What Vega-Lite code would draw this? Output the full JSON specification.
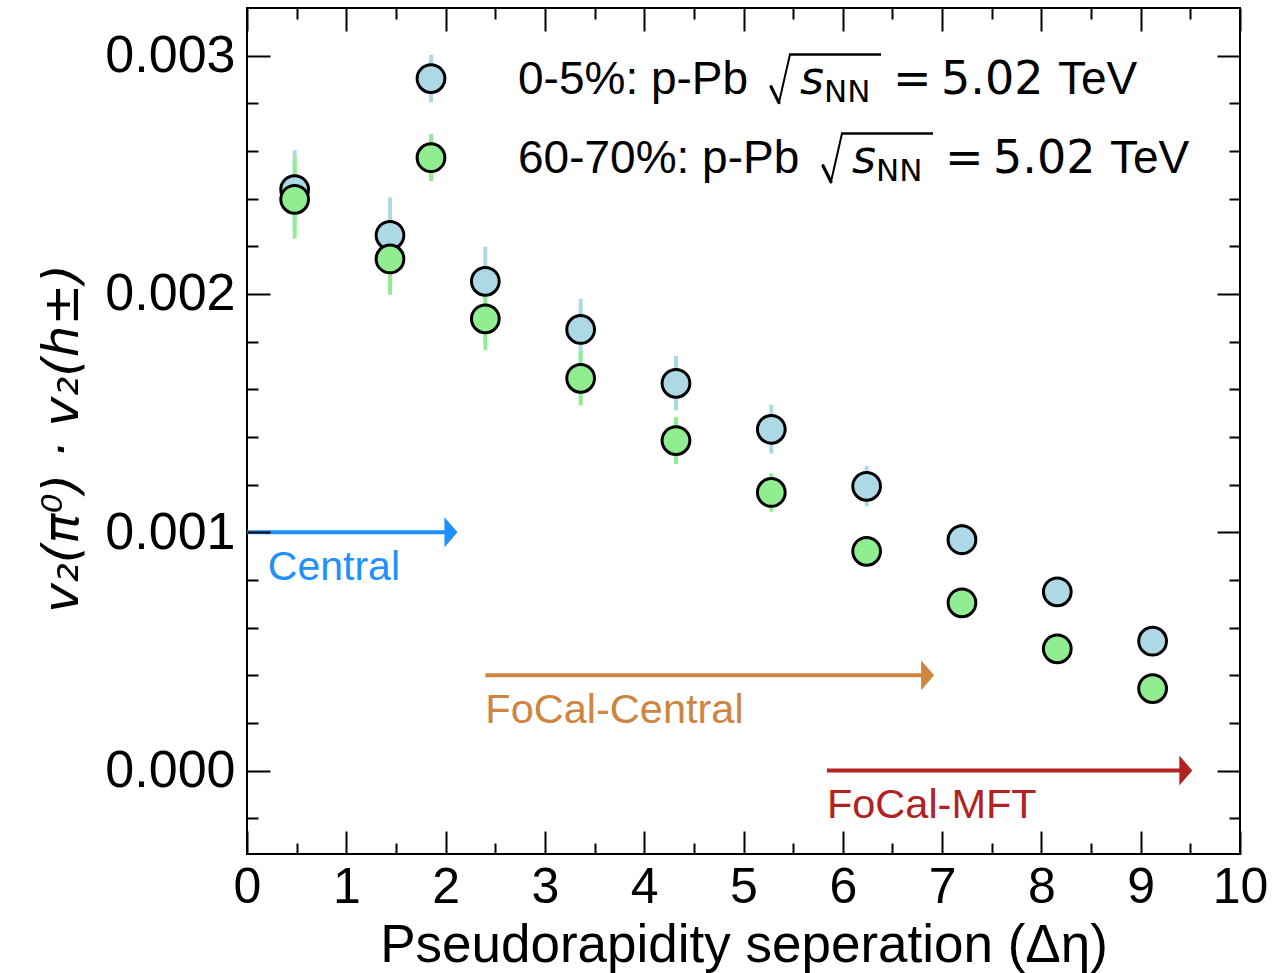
{
"$schema": "https://vega.github.io/schema/vega-lite/v6.json",
"width": 993, "height": 846,
"autosize": {"type": "none"},
"padding": {"left": 247, "top": 8, "right": 32, "bottom": 119},
"background": "white",
"config": {
  "view": {"stroke": "black", "strokeWidth": 2},
  "font": "Liberation Sans",
  "axis": {"grid": false, "domain": false, "labelFont": "Liberation Sans", "titleFont": "Liberation Sans", "labelColor": "black", "titleColor": "black", "tickColor": "black", "tickWidth": 2, "titleFontWeight": "normal", "labelOverlap": false}
},
"data": {"values": [
{"series":"0-5%","deta":0.48,"v":0.002438,"lo":0.002270,"hi":0.002603},
{"series":"0-5%","deta":1.44,"v":0.002246,"lo":0.002087,"hi":0.002405},
{"series":"0-5%","deta":2.40,"v":0.002053,"lo":0.001909,"hi":0.002198},
{"series":"0-5%","deta":3.36,"v":0.001851,"lo":0.001721,"hi":0.001981},
{"series":"0-5%","deta":4.32,"v":0.001625,"lo":0.001512,"hi":0.001740},
{"series":"0-5%","deta":5.28,"v":0.001432,"lo":0.001330,"hi":0.001535},
{"series":"0-5%","deta":6.24,"v":0.001193,"lo":0.001109,"hi":0.001277},
{"series":"0-5%","deta":7.20,"v":0.000969,"lo":0.000901,"hi":0.001037},
{"series":"0-5%","deta":8.16,"v":0.000750,"lo":0.000698,"hi":0.000802},
{"series":"0-5%","deta":9.12,"v":0.000543,"lo":0.000505,"hi":0.000581},
{"series":"60-70%","deta":0.48,"v":0.002397,"lo":0.002232,"hi":0.002568},
{"series":"60-70%","deta":1.44,"v":0.002147,"lo":0.001997,"hi":0.002297},
{"series":"60-70%","deta":2.40,"v":0.001896,"lo":0.001764,"hi":0.002028},
{"series":"60-70%","deta":3.36,"v":0.001646,"lo":0.001532,"hi":0.001761},
{"series":"60-70%","deta":4.32,"v":0.001385,"lo":0.001287,"hi":0.001483},
{"series":"60-70%","deta":5.28,"v":0.001167,"lo":0.001086,"hi":0.001248},
{"series":"60-70%","deta":6.24,"v":0.000920,"lo":0.000856,"hi":0.000984},
{"series":"60-70%","deta":7.20,"v":0.000704,"lo":0.000655,"hi":0.000753},
{"series":"60-70%","deta":8.16,"v":0.000511,"lo":0.000475,"hi":0.000547},
{"series":"60-70%","deta":9.12,"v":0.000344,"lo":0.000320,"hi":0.000368}
]},
"resolve": {"scale": {"x": "shared", "y": "shared"}, "axis": {"x": "independent", "y": "independent"}},
"layer": [
{"transform": [{"filter": "datum.series == '0-5%'"}],
 "mark": {"type": "rule", "color": "#ADD8E6", "strokeWidth": 4},
 "encoding": {
  "x": {"field": "deta", "type": "quantitative", "scale": {"domain": [0, 10], "nice": false, "zero": false},
        "axis": {"orient": "bottom", "values": [0,1,2,3,4,5,6,7,8,9,10], "ticks": false, "tickSize": 0, "labelFontSize": 50, "labelPadding": 8, "labelFlush": false,
                 "title": "Pseudorapidity seperation (Δη)", "titleFontSize": 53, "titleX": 496.5, "titleY": 107, "titleBaseline": "alphabetic", "titleAlign": "center", "titleAnchor": null}},
  "y": {"field": "lo", "type": "quantitative", "scale": {"domain": [-0.00035, 0.0032], "nice": false, "zero": false},
        "axis": {"orient": "left", "values": [0, 0.001, 0.002, 0.003], "format": ".3f", "ticks": false, "tickSize": 0, "labelFontSize": 52, "labelPadding": 12,
                 "title": "v₂(π⁰) · v₂(h±)", "titleFont": "DejaVu Sans", "titleFontSize": 50, "titleFontStyle": "italic", "titleAngle": -90, "titleX": -185, "titleY": 430, "titleAlign": "center", "titleBaseline": "middle", "titleAnchor": null}},
  "y2": {"field": "hi"}
 }},
{"transform": [{"filter": "datum.series == '60-70%'"}],
 "mark": {"type": "rule", "color": "#90EE90", "strokeWidth": 4},
 "encoding": {
  "x": {"field": "deta", "type": "quantitative", "scale": {"domain": [0, 10], "nice": false, "zero": false},
        "axis": {"orient": "bottom", "values": [0,1,2,3,4,5,6,7,8,9,10], "labels": false, "tickSize": -23, "title": null, "zindex": 1}},
  "y": {"field": "lo", "type": "quantitative", "scale": {"domain": [-0.00035, 0.0032], "nice": false, "zero": false},
        "axis": {"orient": "left", "values": [0, 0.001, 0.002, 0.003], "labels": false, "tickSize": -23, "title": null, "zindex": 1}},
  "y2": {"field": "hi"}
 }},
{"transform": [{"filter": "datum.series == '0-5%'"}],
 "mark": {"type": "point", "shape": "circle", "filled": true, "fill": "#ADD8E6", "stroke": "black", "strokeWidth": 3, "size": 770, "opacity": 1},
 "encoding": {
  "x": {"field": "deta", "type": "quantitative", "scale": {"domain": [0, 10], "nice": false, "zero": false},
        "axis": {"orient": "bottom", "values": [0.5,1.5,2.5,3.5,4.5,5.5,6.5,7.5,8.5,9.5], "labels": false, "tickSize": -11, "title": null, "zindex": 1}},
  "y": {"field": "v", "type": "quantitative", "scale": {"domain": [-0.00035, 0.0032], "nice": false, "zero": false},
        "axis": {"orient": "left", "values": [-0.0002,0.0002,0.0004,0.0006,0.0008,0.0012,0.0014,0.0016,0.0018,0.0022,0.0024,0.0026,0.0028], "labels": false, "tickSize": -11, "title": null, "zindex": 1}}
 }},
{"transform": [{"filter": "datum.series == '60-70%'"}],
 "mark": {"type": "point", "shape": "circle", "filled": true, "fill": "#90EE90", "stroke": "black", "strokeWidth": 3, "size": 770, "opacity": 1},
 "encoding": {
  "x": {"field": "deta", "type": "quantitative", "scale": {"domain": [0, 10], "nice": false, "zero": false},
        "axis": {"orient": "top", "values": [0,1,2,3,4,5,6,7,8,9,10], "labels": false, "tickSize": -23, "title": null, "zindex": 1}},
  "y": {"field": "v", "type": "quantitative", "scale": {"domain": [-0.00035, 0.0032], "nice": false, "zero": false},
        "axis": {"orient": "right", "values": [0, 0.001, 0.002, 0.003], "labels": false, "tickSize": -23, "title": null, "zindex": 1}}
 }},
{"mark": {"type": "point", "opacity": 0},
 "encoding": {
  "x": {"field": "deta", "type": "quantitative", "scale": {"domain": [0, 10], "nice": false, "zero": false},
        "axis": {"orient": "top", "values": [0.5,1.5,2.5,3.5,4.5,5.5,6.5,7.5,8.5,9.5], "labels": false, "tickSize": -11, "title": null, "zindex": 1}},
  "y": {"field": "v", "type": "quantitative", "scale": {"domain": [-0.00035, 0.0032], "nice": false, "zero": false},
        "axis": {"orient": "right", "values": [-0.0002,0.0002,0.0004,0.0006,0.0008,0.0012,0.0014,0.0016,0.0018,0.0022,0.0024,0.0026,0.0028], "labels": false, "tickSize": -11, "title": null, "zindex": 1}}
 }},

{"data": {"values": [{}]}, "mark": {"type": "rule", "color": "#1E90FF", "strokeWidth": 4},
 "encoding": {"x": {"datum": 0, "type": "quantitative", "axis": null}, "x2": {"datum": 2.0}, "y": {"datum": 0.001, "type": "quantitative", "axis": null}}},
{"data": {"values": [{}]}, "mark": {"type": "point", "shape": "M-0.87,-1L0,0L-0.87,1Z", "size": 900, "filled": true, "color": "#1E90FF", "opacity": 1, "strokeWidth": 0},
 "encoding": {"x": {"datum": 2.12, "type": "quantitative", "axis": null}, "y": {"datum": 0.001, "type": "quantitative", "axis": null}}},
{"data": {"values": [{}]}, "mark": {"type": "text", "text": "Central", "fontSize": 41, "color": "#1E90FF", "align": "left", "baseline": "alphabetic", "font": "Liberation Sans"},
 "encoding": {"x": {"datum": 0.21, "type": "quantitative", "axis": null}, "y": {"datum": 0.0008, "type": "quantitative", "axis": null}}},

{"data": {"values": [{}]}, "mark": {"type": "rule", "color": "#CD853F", "strokeWidth": 4},
 "encoding": {"x": {"datum": 2.40, "type": "quantitative", "axis": null}, "x2": {"datum": 6.8}, "y": {"datum": 0.0004, "type": "quantitative", "axis": null}}},
{"data": {"values": [{}]}, "mark": {"type": "point", "shape": "M-0.87,-1L0,0L-0.87,1Z", "size": 900, "filled": true, "color": "#CD853F", "opacity": 1, "strokeWidth": 0},
 "encoding": {"x": {"datum": 6.92, "type": "quantitative", "axis": null}, "y": {"datum": 0.0004, "type": "quantitative", "axis": null}}},
{"data": {"values": [{}]}, "mark": {"type": "text", "text": "FoCal-Central", "fontSize": 41.5, "color": "#CD853F", "align": "left", "baseline": "alphabetic", "font": "Liberation Sans"},
 "encoding": {"x": {"datum": 2.40, "type": "quantitative", "axis": null}, "y": {"datum": 0.0002, "type": "quantitative", "axis": null}}},

{"data": {"values": [{}]}, "mark": {"type": "rule", "color": "#B22222", "strokeWidth": 4},
 "encoding": {"x": {"datum": 5.84, "type": "quantitative", "axis": null}, "x2": {"datum": 9.4}, "y": {"datum": 0.0, "type": "quantitative", "axis": null}}},
{"data": {"values": [{}]}, "mark": {"type": "point", "shape": "M-0.87,-1L0,0L-0.87,1Z", "size": 900, "filled": true, "color": "#B22222", "opacity": 1, "strokeWidth": 0},
 "encoding": {"x": {"datum": 9.52, "type": "quantitative", "axis": null}, "y": {"datum": 0.0, "type": "quantitative", "axis": null}}},
{"data": {"values": [{}]}, "mark": {"type": "text", "text": "FoCal-MFT", "fontSize": 41.5, "color": "#B22222", "align": "left", "baseline": "alphabetic", "font": "Liberation Sans"},
 "encoding": {"x": {"datum": 5.84, "type": "quantitative", "axis": null}, "y": {"datum": -0.0002, "type": "quantitative", "axis": null}}},

{"data": {"values": [{}]}, "mark": {"type": "rule", "color": "#ADD8E6", "strokeWidth": 4},
 "encoding": {"x": {"datum": 1.853, "type": "quantitative", "axis": null}, "y": {"datum": 0.002805, "type": "quantitative", "axis": null}, "y2": {"datum": 0.003003}}},
{"data": {"values": [{}]}, "mark": {"type": "point", "shape": "circle", "filled": true, "fill": "#ADD8E6", "stroke": "black", "strokeWidth": 3, "size": 770, "opacity": 1},
 "encoding": {"x": {"datum": 1.853, "type": "quantitative", "axis": null}, "y": {"datum": 0.002904, "type": "quantitative", "axis": null}}},
{"data": {"values": [{}]}, "mark": {"type": "rule", "color": "#90EE90", "strokeWidth": 4},
 "encoding": {"x": {"datum": 1.853, "type": "quantitative", "axis": null}, "y": {"datum": 0.002473, "type": "quantitative", "axis": null}, "y2": {"datum": 0.002671}}},
{"data": {"values": [{}]}, "mark": {"type": "point", "shape": "circle", "filled": true, "fill": "#90EE90", "stroke": "black", "strokeWidth": 3, "size": 770, "opacity": 1},
 "encoding": {"x": {"datum": 1.853, "type": "quantitative", "axis": null}, "y": {"datum": 0.002572, "type": "quantitative", "axis": null}}},

{"data": {"values": [{}]}, "mark": {"type": "text", "text": "0-5%: p-Pb", "fontSize": 46, "color": "black", "align": "left", "baseline": "alphabetic"},
 "encoding": {"x": {"datum": 2.729, "type": "quantitative", "axis": null}, "y": {"datum": 0.002841, "type": "quantitative", "axis": null}}},
{"data": {"values": [{}]}, "mark": {"type": "rule", "color": "black", "strokeWidth": 3.2, "strokeCap": "round"},
 "encoding": {"x": {"datum": 5.277, "type": "quantitative", "axis": null}, "x2": {"datum": 5.357}, "y": {"datum": 0.002870, "type": "quantitative", "axis": null}, "y2": {"datum": 0.002803}}},
{"data": {"values": [{}]}, "mark": {"type": "rule", "color": "black", "strokeWidth": 2, "strokeCap": "butt"},
 "encoding": {"x": {"datum": 5.357, "type": "quantitative", "axis": null}, "x2": {"datum": 5.468}, "y": {"datum": 0.002803, "type": "quantitative", "axis": null}, "y2": {"datum": 0.003005}}},
{"data": {"values": [{}]}, "mark": {"type": "rule", "color": "black", "strokeWidth": 2.5},
 "encoding": {"x": {"datum": 5.458, "type": "quantitative", "axis": null}, "x2": {"datum": 6.385}, "y": {"datum": 0.003005, "type": "quantitative", "axis": null}}},
{"data": {"values": [{}]}, "mark": {"type": "text", "text": "s", "fontSize": 46, "font": "DejaVu Sans", "fontStyle": "italic", "color": "black", "align": "left", "baseline": "alphabetic"},
 "encoding": {"x": {"datum": 5.569, "type": "quantitative", "axis": null}, "y": {"datum": 0.002841, "type": "quantitative", "axis": null}}},
{"data": {"values": [{}]}, "mark": {"type": "text", "text": "NN", "fontSize": 31, "font": "DejaVu Sans", "color": "black", "align": "left", "baseline": "alphabetic"},
 "encoding": {"x": {"datum": 5.811, "type": "quantitative", "axis": null}, "y": {"datum": 0.002807, "type": "quantitative", "axis": null}}},
{"data": {"values": [{}]}, "mark": {"type": "text", "text": "=", "fontSize": 46, "font": "DejaVu Sans", "color": "black", "align": "left", "baseline": "alphabetic"},
 "encoding": {"x": {"datum": 6.506, "type": "quantitative", "axis": null}, "y": {"datum": 0.002841, "type": "quantitative", "axis": null}}},
{"data": {"values": [{}]}, "mark": {"type": "text", "text": "5.02", "fontSize": 46, "font": "DejaVu Sans", "color": "black", "align": "left", "baseline": "alphabetic"},
 "encoding": {"x": {"datum": 6.989, "type": "quantitative", "axis": null}, "y": {"datum": 0.002841, "type": "quantitative", "axis": null}}},
{"data": {"values": [{}]}, "mark": {"type": "text", "text": "TeV", "fontSize": 46, "color": "black", "align": "left", "baseline": "alphabetic"},
 "encoding": {"x": {"datum": 8.167, "type": "quantitative", "axis": null}, "y": {"datum": 0.002841, "type": "quantitative", "axis": null}}},

{"data": {"values": [{}]}, "mark": {"type": "text", "text": "60-70%: p-Pb", "fontSize": 46, "color": "black", "align": "left", "baseline": "alphabetic"},
 "encoding": {"x": {"datum": 2.729, "type": "quantitative", "axis": null}, "y": {"datum": 0.002509, "type": "quantitative", "axis": null}}},
{"data": {"values": [{}]}, "mark": {"type": "rule", "color": "black", "strokeWidth": 3.2, "strokeCap": "round"},
 "encoding": {"x": {"datum": 5.801, "type": "quantitative", "axis": null}, "x2": {"datum": 5.881}, "y": {"datum": 0.002538, "type": "quantitative", "axis": null}, "y2": {"datum": 0.002471}}},
{"data": {"values": [{}]}, "mark": {"type": "rule", "color": "black", "strokeWidth": 2, "strokeCap": "butt"},
 "encoding": {"x": {"datum": 5.881, "type": "quantitative", "axis": null}, "x2": {"datum": 5.992}, "y": {"datum": 0.002471, "type": "quantitative", "axis": null}, "y2": {"datum": 0.002673}}},
{"data": {"values": [{}]}, "mark": {"type": "rule", "color": "black", "strokeWidth": 2.5},
 "encoding": {"x": {"datum": 5.982, "type": "quantitative", "axis": null}, "x2": {"datum": 6.908}, "y": {"datum": 0.002673, "type": "quantitative", "axis": null}}},
{"data": {"values": [{}]}, "mark": {"type": "text", "text": "s", "fontSize": 46, "font": "DejaVu Sans", "fontStyle": "italic", "color": "black", "align": "left", "baseline": "alphabetic"},
 "encoding": {"x": {"datum": 6.093, "type": "quantitative", "axis": null}, "y": {"datum": 0.002509, "type": "quantitative", "axis": null}}},
{"data": {"values": [{}]}, "mark": {"type": "text", "text": "NN", "fontSize": 31, "font": "DejaVu Sans", "color": "black", "align": "left", "baseline": "alphabetic"},
 "encoding": {"x": {"datum": 6.334, "type": "quantitative", "axis": null}, "y": {"datum": 0.002475, "type": "quantitative", "axis": null}}},
{"data": {"values": [{}]}, "mark": {"type": "text", "text": "=", "fontSize": 46, "font": "DejaVu Sans", "color": "black", "align": "left", "baseline": "alphabetic"},
 "encoding": {"x": {"datum": 7.029, "type": "quantitative", "axis": null}, "y": {"datum": 0.002509, "type": "quantitative", "axis": null}}},
{"data": {"values": [{}]}, "mark": {"type": "text", "text": "5.02", "fontSize": 46, "font": "DejaVu Sans", "color": "black", "align": "left", "baseline": "alphabetic"},
 "encoding": {"x": {"datum": 7.513, "type": "quantitative", "axis": null}, "y": {"datum": 0.002509, "type": "quantitative", "axis": null}}},
{"data": {"values": [{}]}, "mark": {"type": "text", "text": "TeV", "fontSize": 46, "color": "black", "align": "left", "baseline": "alphabetic"},
 "encoding": {"x": {"datum": 8.691, "type": "quantitative", "axis": null}, "y": {"datum": 0.002509, "type": "quantitative", "axis": null}}}
]
}
